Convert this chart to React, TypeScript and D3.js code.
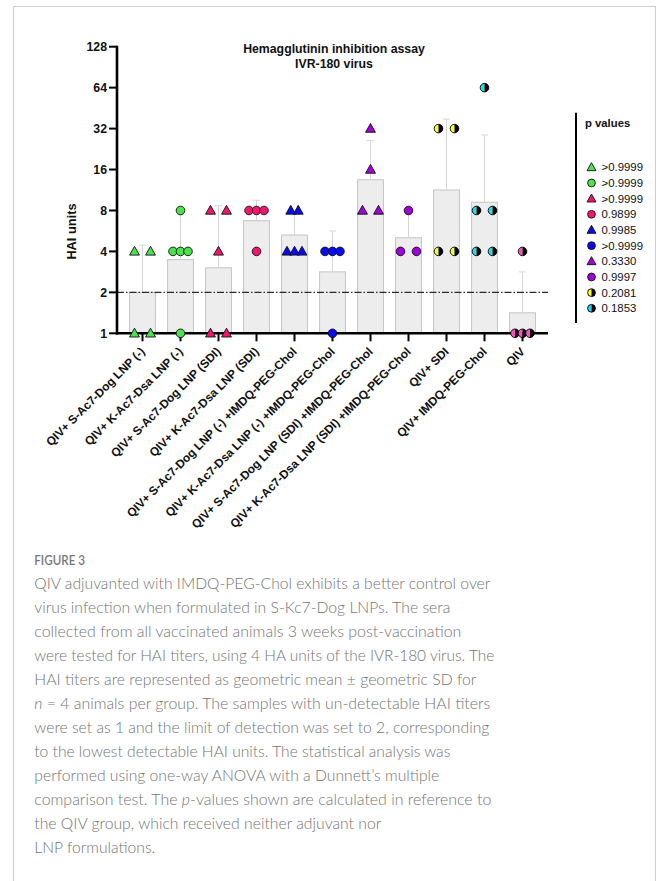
import React from "react";
import * as d3 from "d3";

// Groups on the x axis
const groups = [
  "QIV+ S-Ac7-Dog LNP (-)",
  "QIV+ K-Ac7-Dsa LNP (-)",
  "QIV+ S-Ac7-Dog LNP (SDI)",
  "QIV+ K-Ac7-Dsa LNP (SDI)",
  "QIV+ S-Ac7-Dog LNP (-) +IMDQ-PEG-Chol",
  "QIV+ K-Ac7-Dsa LNP (-) +IMDQ-PEG-Chol",
  "QIV+ S-Ac7-Dog LNP (SDI) +IMDQ-PEG-Chol",
  "QIV+ K-Ac7-Dsa LNP (SDI) +IMDQ-PEG-Chol",
  "QIV+ SDI",
  "QIV+ IMDQ-PEG-Chol",
  "QIV",
];

// Individual HAI titers per animal
const titers = [
  [4, 4, 1, 1],
  [8, 4, 4, 4, 1],
  [8, 8, 4, 1, 1],
  [8, 8, 8, 4],
  [8, 8, 4, 4, 4],
  [4, 4, 4, 1],
  [32, 16, 8, 8],
  [8, 4, 4],
  [32, 32, 4, 4],
  [64, 8, 8, 4, 4],
  [4, 1, 1, 1],
];

// Marker shape and colour per group
const shapes = ["tri", "circ", "tri", "circ", "tri", "circ", "tri", "circ", "half", "half", "half"];
const colors = ["#4be34b", "#4be34b", "#f2166e", "#f2166e", "#0a0af5", "#0a0af5", "#a100dc", "#a100dc", "#ffff1a", "#19e1f0", "#ff4fc8"];

// Dunnett p values versus QIV
const pValues = [">0.9999", ">0.9999", ">0.9999", "0.9899", "0.9985", ">0.9999", "0.3330", "0.9997", "0.2081", "0.1853"];

const yTicks = [1, 2, 4, 8, 16, 32, 64, 128];
const detectionLimit = 2;

const captionLines: React.ReactNode[] = [
  "QIV adjuvanted with IMDQ-PEG-Chol exhibits a better control over",
  "virus infection when formulated in S-Kc7-Dog LNPs. The sera",
  "collected from all vaccinated animals 3 weeks post-vaccination",
  "were tested for HAI titers, using 4 HA units of the IVR-180 virus. The",
  "HAI titers are represented as geometric mean ± geometric SD for",
  <>
    <tspan fontStyle="italic">n</tspan> = 4 animals per group. The samples with un-detectable HAI titers
  </>,
  "were set as 1 and the limit of detection was set to 2, corresponding",
  "to the lowest detectable HAI units. The statistical analysis was",
  "performed using one-way ANOVA with a Dunnett\u2019s multiple",
  <>
    comparison test. The <tspan fontStyle="italic">p</tspan>-values shown are calculated in reference to
  </>,
  "the QIV group, which received neither adjuvant nor",
  "LNP formulations.",
];
const captionWidths = [456, 416, 427, 460, 442, 456, 455, 416, 405, 457, 347, 121];

const W = 656;
const H = 881;
const AX_LEFT = 117;
const AX_RIGHT = 548;
const FONT = "Liberation Sans, Arial, Helvetica, sans-serif";

function Marker({ shape, color, x, y, r = 4.3 }: { shape: string; color: string; x: number; y: number; r?: number }) {
  if (shape === "tri") {
    const h = r * 2.05;
    const w = r * 1.15;
    return (
      <path
        d={`M${x},${y - h * 0.58} L${x + w},${y + h * 0.42} L${x - w},${y + h * 0.42} Z`}
        fill={color}
        stroke="#111"
        strokeWidth={0.9}
        strokeLinejoin="round"
      />
    );
  }
  if (shape === "half") {
    return (
      <g>
        <path d={`M${x},${y - r} A${r},${r} 0 0,0 ${x},${y + r} Z`} fill={color} />
        <path d={`M${x},${y - r} A${r},${r} 0 0,1 ${x},${y + r} Z`} fill="#000" />
        <circle cx={x} cy={y} r={r} fill="none" stroke="#000" strokeWidth={0.9} />
      </g>
    );
  }
  return <circle cx={x} cy={y} r={r} fill={color} stroke="#111" strokeWidth={0.9} />;
}

export default function App() {
  const y = d3.scaleLog().base(2).domain([1, 128]).range([333.3, 46.7]);
  const x = d3.scaleBand<string>().domain(groups).range([123.5, 541.5]).paddingInner(0.32).paddingOuter(0.16);
  const cx = (g: string) => (x(g) as number) + x.bandwidth() / 2;

  const stats = titers.map((vals) => {
    const logs = vals.map((v) => Math.log2(v));
    const m = d3.mean(logs) as number;
    const sd = d3.deviation(logs) as number;
    return { mean: Math.pow(2, m), upper: Math.pow(2, m + sd) };
  });

  // place animals sharing the same titer side by side
  const points = titers.flatMap((vals, gi) => {
    const rows = d3.groups(vals, (v) => v);
    const maxRow = d3.max(rows, (r) => r[1].length) as number;
    const gap = maxRow >= 3 ? 7.5 : 16;
    return rows.flatMap(([v, arr]) =>
      arr.map((_, k) => ({
        gi,
        v,
        dx: (k - (arr.length - 1) / 2) * gap,
      }))
    );
  });

  const legendY = d3.scaleLinear().domain([0, pValues.length - 1]).range([167.3, 308.3]);

  return (
    <svg width={W} height={H} style={{ position: "absolute", left: 0, top: 0 }} fontFamily={FONT}>
      <rect x={0} y={0} width={W} height={H} fill="#fff" />
      {/* figure frame */}
      <path d={`M13.5,${H} V6.5 H655.5 V${H}`} fill="none" stroke="#cfcfcf" strokeWidth={1.2} />

      {/* title */}
      <text x={334} y={53} textAnchor="middle" fontSize={12.3} fontWeight="bold" fill="#111">
        Hemagglutinin inhibition assay
      </text>
      <text x={334} y={68} textAnchor="middle" fontSize={12.3} fontWeight="bold" fill="#111">
        IVR-180 virus
      </text>

      {/* bars */}
      {groups.map((g, i) => (
        <rect
          key={g}
          x={x(g)}
          y={y(stats[i].mean)}
          width={x.bandwidth()}
          height={y(1) - y(stats[i].mean)}
          fill="#ededed"
          stroke="#c4c4c4"
          strokeWidth={1}
        />
      ))}

      {/* geometric SD (upper) */}
      {groups.map((g, i) => (
        <g key={g} stroke="#d6d6d6" strokeWidth={1}>
          <line x1={cx(g)} x2={cx(g)} y1={y(stats[i].mean)} y2={y(stats[i].upper)} />
          <line x1={cx(g) - 3.5} x2={cx(g) + 3.5} y1={y(stats[i].upper)} y2={y(stats[i].upper)} />
        </g>
      ))}

      {/* limit of detection */}
      <line
        x1={AX_LEFT}
        x2={AX_RIGHT}
        y1={y(detectionLimit)}
        y2={y(detectionLimit)}
        stroke="#2a2a2a"
        strokeWidth={1.2}
        strokeDasharray="7 2 1.5 2"
      />

      {/* y axis */}
      <line x1={AX_LEFT} x2={AX_LEFT} y1={y(128) - 1} y2={y(1) + 1.2} stroke="#000" strokeWidth={2.6} />
      {yTicks.map((t) => (
        <g key={t}>
          <line x1={AX_LEFT - 8} x2={AX_LEFT} y1={y(t)} y2={y(t)} stroke="#000" strokeWidth={2} />
          <text x={AX_LEFT - 10} y={y(t)} dy="0.36em" textAnchor="end" fontSize={12.3} fontWeight="bold" fill="#111">
            {t}
          </text>
        </g>
      ))}
      <text
        transform={`translate(76,${y(5.6)}) rotate(-90)`}
        textAnchor="middle"
        fontSize={12.8}
        fontWeight="bold"
        fill="#111"
      >
        HAI units
      </text>

      {/* x axis */}
      <line x1={AX_LEFT - 1.2} x2={AX_RIGHT} y1={y(1)} y2={y(1)} stroke="#000" strokeWidth={2.6} />
      {groups.map((g) => (
        <g key={g}>
          <line x1={cx(g)} x2={cx(g)} y1={y(1)} y2={y(1) + 8} stroke="#000" strokeWidth={2} />
          <text
            transform={`translate(${cx(g) + 3},${y(1) + 19}) rotate(-45)`}
            textAnchor="end"
            fontSize={11.9}
            fontWeight="bold"
            fill="#111"
          >
            {g}
          </text>
        </g>
      ))}

      {/* individual animals */}
      {points.map((p, k) => (
        <Marker
          key={k}
          shape={shapes[p.gi]}
          color={colors[p.gi]}
          x={cx(groups[p.gi]) + p.dx}
          y={y(p.v)}
        />
      ))}

      {/* legend */}
      <line x1={576} x2={576} y1={112.7} y2={323} stroke="#000" strokeWidth={2} />
      <text x={585} y={127} fontSize={11.3} fontWeight="bold" fill="#111">
        p values
      </text>
      {pValues.map((pv, i) => (
        <g key={i}>
          <Marker shape={shapes[i]} color={colors[i]} x={591.5} y={legendY(i)} r={3.9} />
          <text x={601.5} y={legendY(i)} dy="0.36em" fontSize={11.4} fill="#111">
            {pv}
          </text>
        </g>
      ))}

      {/* caption */}
      <text x={34.3} y={565} fontFamily="Lato, 'Open Sans', sans-serif" fontSize={13.5} fontWeight={600} fill="#777" textLength={50.7} lengthAdjust="spacingAndGlyphs">
        FIGURE 3
      </text>
      {captionLines.map((line, i) => (
        <text
          key={i}
          x={34.3}
          y={589.3 + 24 * i}
          fontFamily="Lato, 'Open Sans', sans-serif"
          fontSize={16}
          fontWeight={300}
          fill="#747474"
          textLength={captionWidths[i]}
          lengthAdjust="spacingAndGlyphs"
        >
          {line}
        </text>
      ))}
    </svg>
  );
}
